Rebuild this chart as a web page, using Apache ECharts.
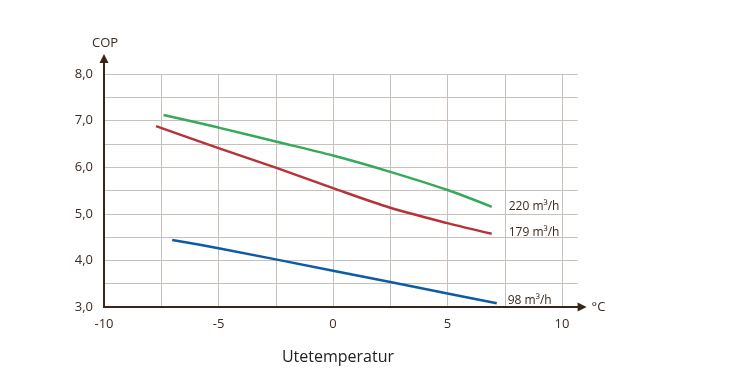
<!DOCTYPE html>
<html>
<head>
<meta charset="utf-8">
<script src="https://cdn.jsdelivr.net/npm/echarts@6/dist/echarts.min.js"></script>
<style>
html,body{margin:0;padding:0;background:#fff;}
#chart{width:750px;height:386px;}
</style>
</head>
<body>
<div id="chart"></div>
<script>
// Data
const seriesNames = ['220 m³/h', '179 m³/h', '98 m³/h'];
const green220 = [[-7.4, 7.12], [-5, 6.85], [-2.5, 6.55], [0, 6.25], [2.5, 5.9], [5, 5.51], [6.93, 5.15]];
const red179 = [[-7.73, 6.88], [-5, 6.41], [-2.5, 5.99], [0, 5.55], [2.5, 5.13], [5, 4.8], [6.93, 4.57]];
const blue98 = [[-7.02, 4.44], [-5, 4.26], [0, 3.78], [5, 3.29], [7.15, 3.08]];
const xTicks = [-10, -5, 0, 5, 10];
const yTicks = [3, 4, 5, 6, 7, 8];

const textColor = '#3b2b22';
const axisColor = '#3a2518';
const gridColor = '#c9c0bc';
const font = '"Open Sans", "DejaVu Sans", sans-serif';

const G = {left: 104, top: 74, width: 473.6, height: 233};

const chart = echarts.init(document.getElementById('chart'), null, {renderer: 'canvas'});

function mkSeries(name, data, color, dist, dy) {
  return {
    type: 'line', name: name, data: data, smooth: 0.3, symbol: 'none',
    lineStyle: {color: color, width: 2.5}, itemStyle: {color: color},
    labelLayout: {moveOverlap: false},
    endLabel: {show: true, formatter: name, color: textColor, fontFamily: font, fontSize: 12, distance: dist, offset: [0, dy]},
    z: 3
  };
}

const ax = G.left, ay = G.top, bx = G.left + G.width, by = G.top + G.height;

chart.setOption({
  animation: false,
  grid: {left: G.left, top: G.top, width: G.width, height: G.height},
  title: {text: 'Utetemperatur', left: 333, top: 344, textAlign: 'center',
    textStyle: {fontFamily: font, fontSize: 16, fontWeight: 'normal', color: '#222'}},
  xAxis: {
    type: 'value', min: -10, max: 10.68, interval: 2.5,
    name: '°C', nameLocation: 'end', nameGap: 14,
    nameTextStyle: {fontFamily: font, fontSize: 13, color: textColor},
    axisLine: {show: true, onZero: false, lineStyle: {color: axisColor, width: 2}},
    axisTick: {show: false},
    splitLine: {show: true, showMaxLine: false, lineStyle: {color: gridColor, width: 1}},
    axisLabel: {margin: 11, fontFamily: font, fontSize: 13, color: textColor, showMaxLabel: false,
      formatter: v => (xTicks.indexOf(v) >= 0 ? String(v) : '')}
  },
  yAxis: {
    type: 'value', min: 3, max: 8, interval: 0.5,
    name: 'COP', nameLocation: 'end', nameGap: 24,
    nameTextStyle: {fontFamily: font, fontSize: 13, color: textColor, align: 'center', padding: [0, 0, 0, 2]},
    axisLine: {show: true, onZero: false, lineStyle: {color: axisColor, width: 2}},
    axisTick: {show: false},
    splitLine: {show: true, lineStyle: {color: gridColor, width: 1}},
    axisLabel: {margin: 11, fontFamily: font, fontSize: 13, color: textColor,
      formatter: v => (yTicks.indexOf(v) >= 0 ? v.toFixed(1).replace('.', ',') : '')}
  },
  graphic: [
    {type: 'line', shape: {x1: ax, y1: ay, x2: ax, y2: ay - 14}, style: {stroke: axisColor, lineWidth: 2}, z: 10},
    {type: 'polygon', shape: {points: [[ax, ay - 20], [ax - 4.5, ay - 11], [ax + 4.5, ay - 11]]}, style: {fill: axisColor}, z: 10},
    {type: 'line', shape: {x1: bx - 1, y1: by, x2: bx + 3, y2: by}, style: {stroke: axisColor, lineWidth: 2}, z: 10},
    {type: 'polygon', shape: {points: [[bx + 9, by], [bx, by - 4.5], [bx, by + 4.5]]}, style: {fill: axisColor}, z: 10}
  ],
  series: [
    mkSeries(seriesNames[0], green220, '#38a85a', 17, 0),
    mkSeries(seriesNames[1], red179, '#b5333a', 17, -1),
    mkSeries(seriesNames[2], blue98, '#0d5ba6', 11, -3)
  ]
});
</script>
</body>
</html>
